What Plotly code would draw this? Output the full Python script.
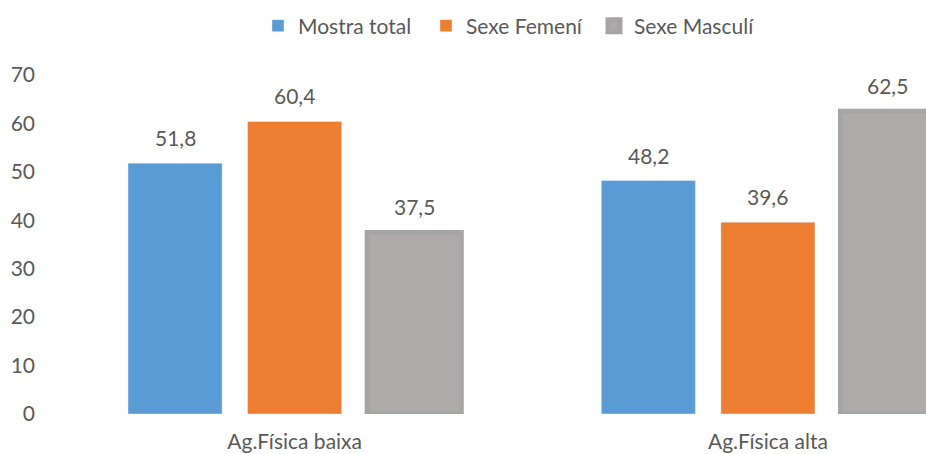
import plotly.graph_objects as go

categories = ["Ag.Física baixa", "Ag.Física alta"]
series_names = ["Mostra total", "Sexe Femení", "Sexe Masculí"]
mostra_total = [51.8, 48.2]
sexe_femeni = [60.4, 39.6]
sexe_masculi = [37.5, 62.5]
y_ticks = [0, 10, 20, 30, 40, 50, 60, 70]

FONT = "Lato"
TEXT_COLOR = "#595959"
BARGAP = 0.242
SLOT = (1 - BARGAP) / 3  # width of one bar slot within a category group

fig = go.Figure()
styles = [
    dict(color="#5B9BD5"),
    dict(color="#ED7D31"),
    dict(color="#AEAAAA", line=dict(color="#A5A5A5", width=5)),
]
all_series = [mostra_total, sexe_femeni, sexe_masculi]
for name, values, marker in zip(series_names, all_series, styles):
    fig.add_trace(go.Bar(
        x=categories,
        y=values,
        name=name,
        marker=marker,
    ))

# value labels above bars
for s, values in enumerate(all_series):
    for c, v in enumerate(values):
        fig.add_annotation(
            x=c + (s - 1) * SLOT, y=v,
            text=f"{v:.1f}".replace(".", ","),
            showarrow=False,
            yanchor="bottom",
            yshift=11,
            font=dict(family=FONT, size=21, color=TEXT_COLOR),
        )

fig.update_layout(
    width=926,
    height=454,
    margin=dict(l=58, r=0, t=75, b=40),
    paper_bgcolor="white",
    plot_bgcolor="white",
    barmode="group",
    bargap=BARGAP,
    bargroupgap=0.213,
    font=dict(family=FONT, size=21, color=TEXT_COLOR),
    legend=dict(
        orientation="h",
        x=258 / 926, xanchor="left", xref="container",
        y=1 - 26 / 454, yanchor="middle", yref="container",
        font=dict(family=FONT, size=21, color=TEXT_COLOR),
        entrywidth=123,
        traceorder="normal",
    ),
    showlegend=True,
)
fig.update_xaxes(
    range=[-0.5, 1.334],
    showgrid=False,
    showline=False,
    ticks="",
    ticklabelstandoff=13,
    automargin=False,
)
fig.update_yaxes(
    range=[0, 70],
    tickvals=y_ticks,
    showgrid=False,
    zeroline=False,
    showline=False,
    ticklabelstandoff=22,
    automargin=False,
)

fig.write_html(
    "out.html",
    config={"displayModeBar": False},
    post_script="document.body.style.margin = '0';",
)
